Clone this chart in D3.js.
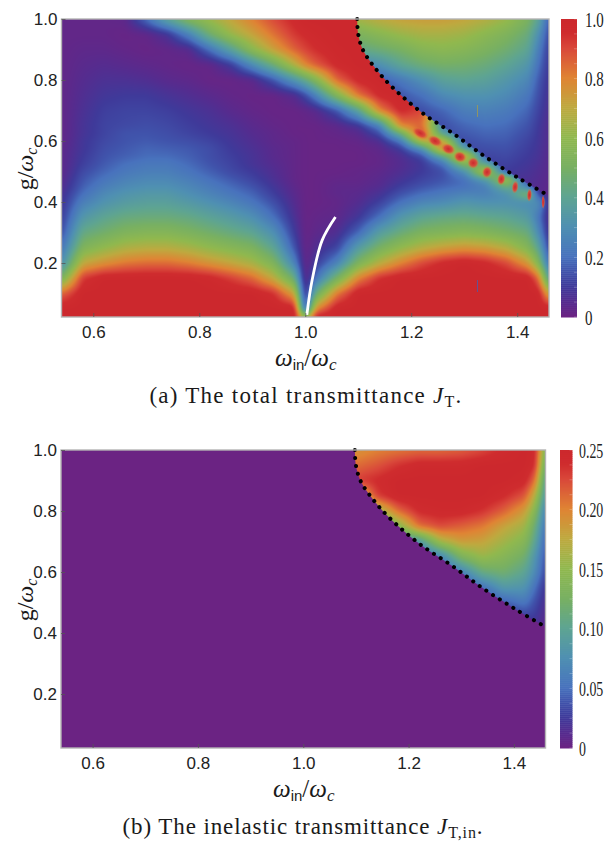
<!DOCTYPE html>
<html>
<head>
<meta charset="utf-8">
<script src="https://cdn.jsdelivr.net/npm/d3@7"></script>
<style>
  body { margin: 0; background: #fff; }
  svg { display: block; }
  text { fill: #1a1a1a; }
</style>
</head>
<body>
<div id="graph"></div>
<script>
// tick labels
const xTicks = [0.6, 0.8, 1.0, 1.2, 1.4];
const yTicks = [0.2, 0.4, 0.6, 0.8, 1.0];
const barTicksA = [0, 0.2, 0.4, 0.6, 0.8, 1.0];
const barTicksB = [0, 0.05, 0.10, 0.15, 0.20, 0.25];

// colour stops
const rainbowAt = [0, 0.05, 0.1, 0.15, 0.2, 0.3, 0.4, 0.5, 0.6, 0.7, 0.8, 0.9, 0.95, 1];
const rainbow = ["#6b2383", "#552c8f", "#3f3a9a", "#4053ab", "#4872bd", "#4f90b2", "#5ea492", "#78b062", "#90b84e", "#bea93f", "#df8434", "#d9483a", "#cf2c2e", "#cc282d"];

// threshold curve (omega_in/omega_c, g/omega_c)
const edgeX = [1.098, 1.100, 1.109, 1.132, 1.164, 1.221, 1.283, 1.340, 1.402, 1.457];
const edgeG = [1.000, 0.950, 0.898, 0.839, 0.777, 0.692, 0.620, 0.548, 0.479, 0.423];

// white curve in panel (a)
const whiteX = [1.003, 1.013, 1.032, 1.057];
const whiteG = [0.030, 0.144, 0.275, 0.351];

// ripple spots on the thin band in panel (a)
const rippleX = [1.217, 1.245, 1.27, 1.292, 1.317, 1.343, 1.37, 1.396, 1.423, 1.449];
const rippleG = [0.626, 0.600, 0.574, 0.548, 0.528, 0.498, 0.475, 0.449, 0.423, 0.400];

// total transmittance (percent), left/below the curve
const lowX = [0.54, 0.58, 0.62, 0.66, 0.70, 0.74, 0.78, 0.82, 0.86, 0.90, 0.94, 0.98, 1.0, 1.02, 1.06, 1.10, 1.14, 1.18, 1.22, 1.26, 1.30, 1.34, 1.38, 1.42, 1.44, 1.46];
const lowG = [1.0, 0.95, 0.9, 0.85, 0.8, 0.75, 0.7, 0.65, 0.625, 0.6, 0.575, 0.55, 0.525, 0.5, 0.475, 0.45, 0.425, 0.4, 0.35, 0.3, 0.25, 0.2, 0.15, 0.1, 0.05, 0.023];
const totalLow = [
  [2,2,2,3,20,40,55,63,72,81,90,97,100,100,100,100,100,100,100,100,100,100,100,100,100,100],
  [2,2,2,1,2,8,25,47,62,72,83,93,96,98,100,100,100,100,100,100,100,100,100,100,100,100],
  [2,3,3,2,1,2,4,20,38,58,73,86,91,95,99,100,100,100,100,100,100,100,100,100,100,100],
  [2,4,5,4,3,2,1,2,10,28,46,68,80,87,97,100,100,100,100,100,100,100,100,100,100,100],
  [2,5,7,7,6,4,3,1,1,3,15,32,42,55,85,97,100,100,100,100,100,100,100,100,100,100],
  [2,6,9,10,10,8,6,4,2,1,1,5,13,25,55,83,97,100,100,100,100,100,100,100,100,100],
  [2,7,11,12,12,11,9,7,4,2,1,1,2,4,15,38,80,97,90,50,50,50,50,50,50,50],
  [2,8,12,13,14,13,11,9,7,4,2,1,1,1,3,8,24,80,85,25,25,25,25,25,25,25],
  [2,8,12,15,15,14,12,10,8,5,3,1,1,1,2,4,14,45,95,35,20,20,20,20,20,20],
  [2,9,13,15,16,15,14,12,9,6,3,2,1,1,1,2,6,22,70,75,18,18,18,18,18,18],
  [3,9,14,16,18,17,16,14,10,7,4,2,1,1,1,1,3,10,30,85,35,14,14,14,14,14],
  [3,10,15,17,19,19,17,14,11,8,4,2,1,1,1,1,2,6,13,40,85,14,13,10,8,4],
  [3,11,16,20,22,22,19,15,12,8,5,2,1,1,1,1,2,5,9,20,55,40,10,8,6,3],
  [3,13,18,22,24,24,21,17,13,10,6,2,1,1,1,2,3,6,10,14,30,75,10,5,4,3],
  [4,15,21,25,27,27,24,20,16,12,7,2,1,1,2,2,4,8,12,15,20,35,70,6,4,3],
  [5,17,24,28,30,30,27,23,19,15,9,3,1,1,3,3,5,11,15,18,20,24,45,25,6,3],
  [7,20,28,32,34,34,30,26,22,18,11,4,1,1,3,4,8,15,20,23,26,25,30,55,12,4],
  [8,24,31,35,37,37,34,30,26,21,14,5,1,1,2,5,11,20,26,28,32,30,30,28,30,6],
  [10,33,40,44,45,45,43,39,35,30,20,7,1,2,3,9,20,33,40,43,44,42,40,35,22,4],
  [13,43,48,53,55,55,52,48,44,40,30,10,1,3,6,18,36,45,52,54,56,54,50,45,28,6],
  [20,53,60,66,68,68,65,60,56,52,40,15,1,6,12,35,50,60,68,73,76,74,68,55,40,10],
  [28,70,77,82,84,84,81,76,71,65,53,25,1,10,25,52,68,80,90,97,100,97,90,75,55,18],
  [50,93,100,100,100,100,100,98,92,85,70,45,1,20,50,80,95,100,100,100,100,100,100,100,85,35],
  [85,100,100,100,100,100,100,100,100,100,95,72,3,45,82,100,100,100,100,100,100,100,100,100,100,70],
  [100,100,100,100,100,100,100,100,100,100,100,100,10,78,100,100,100,100,100,100,100,100,100,100,100,100],
  [100,100,100,100,100,100,100,100,100,100,100,100,60,100,100,100,100,100,100,100,100,100,100,100,100,100]
];

// right/above the curve, both panels share this grid
const highX = [1.06, 1.10, 1.14, 1.18, 1.22, 1.26, 1.30, 1.34, 1.38, 1.42, 1.44, 1.46];
const highG = [1.0, 0.95, 0.9, 0.85, 0.8, 0.75, 0.7, 0.65, 0.6, 0.55, 0.5, 0.45, 0.4];
const totalHigh = [
  [62,65,70,73,74,74,72,68,62,52,40,15],
  [50,52,57,62,65,65,63,58,53,45,30,12],
  [40,42,46,50,56,58,56,52,47,40,24,10],
  [25,25,30,40,46,49,48,45,40,33,20,9],
  [15,15,15,22,30,38,40,38,33,27,16,8],
  [12,12,12,15,20,28,31,31,28,22,14,7],
  [12,12,12,14,14,18,24,25,23,18,12,6],
  [12,12,12,14,14,14,18,20,19,15,10,5],
  [12,12,12,12,14,14,14,16,16,12,9,5],
  [12,12,12,12,12,12,12,12,13,10,8,4],
  [10,10,10,10,10,10,10,10,10,8,6,4],
  [6,6,6,6,6,6,6,6,6,6,5,3],
  [5,5,5,5,5,5,5,5,5,5,4,3]
];
// inelastic transmittance (in units of 0.01)
const inelasticHigh = [
  [19,19,20,20.5,21,21,21.5,22.5,24,25,24.5,13],
  [21,21,22,23.5,24.5,24.5,24.5,25,25,25,24,11],
  [23,23,24,25,25,25,25,25,25,24.5,21,9],
  [14,14,23,25,25,25,25,25,24,22,17,8],
  [8,8,15,21,24,24.5,24.5,23.5,21.5,18.5,14,6],
  [5,5,8,14,21,22.5,21.5,20.5,18,16,11.5,5],
  [2,2,4,6,8,16,18.5,18,16,14,10,4],
  [1,1,2,3,4,6,13,15.5,14,12,8,3.5],
  [1,1,1,1,2,3,6,11,12,10,7,3],
  [1,1,1,1,1,1,2,5,8.5,8,5,2],
  [0,0,0,0,0,1,1,2,4,5.5,3.5,1.5],
  [0,0,0,0,0,0,0,1,1.5,2.5,2.5,1],
  [0,0,0,0,0,0,0,0,1,1,1,0.5]
];
// inelastic part is flat zero below the curve
const inelasticLow = [[0, 0], [0, 0]];
const flatX = [0.54, 1.46];
const flatG = [1.0, 0.023];

const width = 609, height = 842;
const svg = d3.select("#graph").append("svg").attr("width", width).attr("height", height);
const serif = "'Liberation Serif', serif";
const sans = "'Liberation Sans', sans-serif";

// ripple gradient, red core fading out
const defs = svg.append("defs");
const spot = defs.append("radialGradient").attr("id", "spot");
spot.append("stop").attr("offset", "0%").attr("stop-color", "#cc282d");
spot.append("stop").attr("offset", "55%").attr("stop-color", "#d9483a").attr("stop-opacity", 0.95);
spot.append("stop").attr("offset", "100%").attr("stop-color", "#df8434").attr("stop-opacity", 0);

// paints a value grid to an image, smoothing a little like the blurry original
function fieldImage(values, gridX, gridG, scale, x, y) {
  const [x0, x1] = x.range(), [y1, y0] = y.range();
  const w = Math.round(x1 - x0), h = Math.round(y1 - y0);
  const ix = d3.scaleLinear().domain(gridX).range(d3.range(gridX.length)).clamp(true);
  const iy = d3.scaleLinear().domain(gridG).range(d3.range(gridG.length)).clamp(true);
  let buf = new Float32Array(w * h);
  for (let j = 0; j < h; j++) {
    const fy = iy(y.invert(y0 + j + 0.5));
    const r0 = Math.floor(fy), r1 = Math.min(r0 + 1, gridG.length - 1), ty = fy - r0;
    for (let i = 0; i < w; i++) {
      const fx = ix(x.invert(x0 + i + 0.5));
      const c0 = Math.floor(fx), c1 = Math.min(c0 + 1, gridX.length - 1), tx = fx - c0;
      const top = values[r0][c0] * (1 - tx) + values[r0][c1] * tx;
      const bot = values[r1][c0] * (1 - tx) + values[r1][c1] * tx;
      buf[j * w + i] = top * (1 - ty) + bot * ty;
    }
  }
  const rad = 3;
  for (let pass = 0; pass < 2; pass++) {
    const a = new Float32Array(w * h), b = new Float32Array(w * h);
    for (let j = 0; j < h; j++) for (let i = 0; i < w; i++) {
      let s = 0;
      for (let k = -rad; k <= rad; k++) s += buf[j * w + Math.max(0, Math.min(w - 1, i + k))];
      a[j * w + i] = s / (2 * rad + 1);
    }
    for (let j = 0; j < h; j++) for (let i = 0; i < w; i++) {
      let s = 0;
      for (let k = -rad; k <= rad; k++) s += a[Math.max(0, Math.min(h - 1, j + k)) * w + i];
      b[j * w + i] = s / (2 * rad + 1);
    }
    buf = b;
  }
  const canvas = document.createElement("canvas");
  canvas.width = w; canvas.height = h;
  const ctx = canvas.getContext("2d");
  const img = ctx.createImageData(w, h);
  for (let p = 0; p < w * h; p++) {
    const c = d3.rgb(scale(buf[p]));
    img.data[p * 4] = c.r; img.data[p * 4 + 1] = c.g; img.data[p * 4 + 2] = c.b; img.data[p * 4 + 3] = 255;
  }
  ctx.putImageData(img, 0, 0);
  return canvas.toDataURL();
}

function addMath(text, parts) {
  parts.forEach(function(p) {
    const t = text.append("tspan").text(p.t);
    if (p.italic) t.style("font-style", "italic");
    if (p.fam) t.style("font-family", p.fam);
    if (p.size) t.style("font-size", p.size + "px");
    if (p.dy) t.attr("dy", p.dy);
  });
}

function panel(o) {
  const x = d3.scaleLinear().domain([0.54, 1.46]).range([o.left, o.right]);
  const y = d3.scaleLinear().domain([0.023, 1.0]).range([o.bottom, o.top]);
  const colour = d3.scaleLinear().domain(rainbowAt.map(d => d * o.max)).range(rainbow).clamp(true);
  const g = svg.append("g");

  const edge = d3.line().x((d, i) => x(edgeX[i])).y((d, i) => y(edgeG[i])).curve(d3.curveCatmullRom);
  const edgePath = edge(edgeX);

  defs.append("clipPath").attr("id", "plot" + o.id).append("rect")
    .attr("x", o.left).attr("y", o.top).attr("width", o.right - o.left).attr("height", o.bottom - o.top);
  defs.append("clipPath").attr("id", "upper" + o.id).append("path")
    .attr("d", edgePath + "L" + o.right + "," + y(edgeG[edgeG.length - 1]) + "L" + o.right + "," + o.top + "Z");

  const field = g.append("g").attr("clip-path", "url(#plot" + o.id + ")");
  field.append("image").attr("x", o.left).attr("y", o.top)
    .attr("width", Math.round(o.right - o.left)).attr("height", Math.round(o.bottom - o.top))
    .attr("preserveAspectRatio", "none")
    .attr("href", fieldImage(o.low, o.lowX, o.lowG, colour, x, y));

  if (o.ripple) {
    const first = rippleX[0], last = rippleX[rippleX.length - 1];
    const rw = d3.scaleLinear().domain([first, last]).range([9, 1.8]);
    const rh = d3.scaleLinear().domain([first, last]).range([5, 7]);
    const tilt = d3.scaleLinear().domain([first, last]).range([30, 0]);
    field.selectAll("ellipse").data(rippleX).enter().append("ellipse")
      .attr("rx", d => rw(d))
      .attr("ry", d => rh(d))
      .attr("transform", (d, i) => "translate(" + x(d) + "," + y(rippleG[i]) + ") rotate(" + tilt(d) + ")")
      .attr("fill", "url(#spot)");
  }

  field.append("image").attr("x", o.left).attr("y", o.top)
    .attr("width", Math.round(o.right - o.left)).attr("height", Math.round(o.bottom - o.top))
    .attr("preserveAspectRatio", "none")
    .attr("clip-path", "url(#upper" + o.id + ")")
    .attr("href", fieldImage(o.high, highX, highG, colour, x, y));

  if (o.white) {
    const wl = d3.line().x((d, i) => x(whiteX[i])).y((d, i) => y(whiteG[i])).curve(d3.curveCatmullRom);
    field.append("path").attr("d", wl(whiteX)).attr("fill", "none")
      .attr("stroke", "#fff").attr("stroke-width", 2.8);
    // two stray pixels columns in the original render
    field.append("line").attr("x1", x(1.325)).attr("x2", x(1.325)).attr("y1", y(0.718)).attr("y2", y(0.679))
      .attr("stroke", "#b0a040").attr("stroke-width", 1).attr("opacity", 0.7);
    field.append("line").attr("x1", x(1.325)).attr("x2", x(1.325)).attr("y1", y(0.144)).attr("y2", y(0.105))
      .attr("stroke", "#4a5fae").attr("stroke-width", 1).attr("opacity", 0.8);
  }

  g.append("path").attr("d", edgePath).attr("fill", "none")
    .attr("stroke", "#000").attr("stroke-width", 4)
    .attr("stroke-linecap", "round").attr("stroke-dasharray", "0.1 7.9");

  g.append("rect").attr("x", o.left).attr("y", o.top)
    .attr("width", o.right - o.left).attr("height", o.bottom - o.top)
    .attr("fill", "none").attr("stroke", "#b4b4b4").attr("stroke-width", 1.4);

  const xAxis = g.append("g").attr("transform", "translate(0," + o.bottom + ")")
    .call(d3.axisBottom(x).tickValues(xTicks).tickFormat(d3.format(".1f")).tickSizeInner(-4).tickSizeOuter(0).tickPadding(9));
  const yAxis = g.append("g").attr("transform", "translate(" + o.left + ",0)")
    .call(d3.axisLeft(y).tickValues(yTicks).tickFormat(d3.format(".1f")).tickSizeInner(-4).tickSizeOuter(0).tickPadding(4));
  [xAxis, yAxis].forEach(function(a) {
    a.select(".domain").remove();
    a.selectAll("line").attr("stroke", "#555").attr("stroke-width", 0.8);
    a.selectAll("text").style("font-family", sans).style("font-size", "17px").style("fill", "#222");
  });

  const xt = g.append("text").attr("x", (o.left + o.right) / 2 + 0.5).attr("y", o.bottom + 49)
    .attr("text-anchor", "middle").style("font-family", serif).style("font-size", "25px");
  addMath(xt, [
    { t: "ω", italic: true },
    { t: "in", size: 15, dy: 4, fam: sans },
    { t: "/", dy: -4 },
    { t: "ω", italic: true },
    { t: "c", italic: true, size: 17, dy: 4 }
  ]);
  const yt = g.append("text").attr("text-anchor", "middle")
    .attr("transform", "translate(33," + ((o.top + o.bottom) / 2 + 1) + ") rotate(-90)")
    .style("font-family", serif).style("font-size", "24px");
  addMath(yt, [
    { t: "g/" },
    { t: "ω", italic: true },
    { t: "c", italic: true, size: 16, dy: 4 }
  ]);

  const cap = g.append("text").attr("x", o.capX).attr("y", o.capY).attr("text-anchor", "middle")
    .style("font-family", serif).style("font-size", "23px").style("letter-spacing", o.capSpace + "px");
  addMath(cap, o.caption);

  // colour bar
  const by = d3.scaleLinear().domain([0, o.max]).range([o.bottom, o.top]);
  const bar = g.append("g");
  bar.selectAll("rect").data(d3.range(0, o.max, o.max / 150)).enter().append("rect")
    .attr("x", o.barX).attr("width", o.barW)
    .attr("y", d => by(d + o.max / 150))
    .attr("height", (o.bottom - o.top) / 150 + 0.5)
    .attr("fill", d => colour(d));
  bar.selectAll("line").data(d3.range(0, o.max + 1e-9, o.max / 20)).enter().append("line")
    .attr("x1", o.barX + o.barW - 3).attr("x2", o.barX + o.barW)
    .attr("y1", d => by(d)).attr("y2", d => by(d))
    .attr("stroke", "#fff").attr("stroke-opacity", 0.35).attr("stroke-width", 0.7);
  bar.selectAll("text").data(o.barTicks).enter().append("text")
    .attr("transform", d => "translate(" + o.barLabel + "," + (by(d) + 7.5) + ") scale(" + o.squeeze + ",1)")
    .style("font-family", serif).style("font-size", "22px").style("fill", "#222")
    .text(o.barFormat);
}

panel({
  id: "a", left: 61.5, right: 549, top: 19, bottom: 317, max: 100,
  low: totalLow, lowX: lowX, lowG: lowG, high: totalHigh,
  ripple: true, white: true,
  barX: 561, barW: 16, barLabel: 585, squeeze: 0.68,
  barTicks: barTicksA.map(d => d * 100),
  barFormat: d => d === 0 ? "0" : (d / 100).toFixed(1),
  capX: 306, capY: 403, capSpace: 1.25,
  caption: [
    { t: "(a) The total transmittance " },
    { t: "J", italic: true },
    { t: "T", size: 16, dy: 4 },
    { t: ".", dy: -4 }
  ]
});

panel({
  id: "b", left: 61, right: 545.5, top: 450, bottom: 748, max: 25,
  low: inelasticLow, lowX: flatX, lowG: flatG, high: inelasticHigh,
  ripple: false, white: false,
  barX: 560, barW: 12.5, barLabel: 579, squeeze: 0.63,
  barTicks: barTicksB.map(d => d * 100),
  barFormat: d => d === 0 ? "0" : (d / 100).toFixed(2),
  capX: 303, capY: 834, capSpace: 0.9,
  caption: [
    { t: "(b) The inelastic transmittance " },
    { t: "J", italic: true },
    { t: "T,in", size: 16, dy: 4 },
    { t: ".", dy: -4 }
  ]
});
</script>
</body>
</html>
